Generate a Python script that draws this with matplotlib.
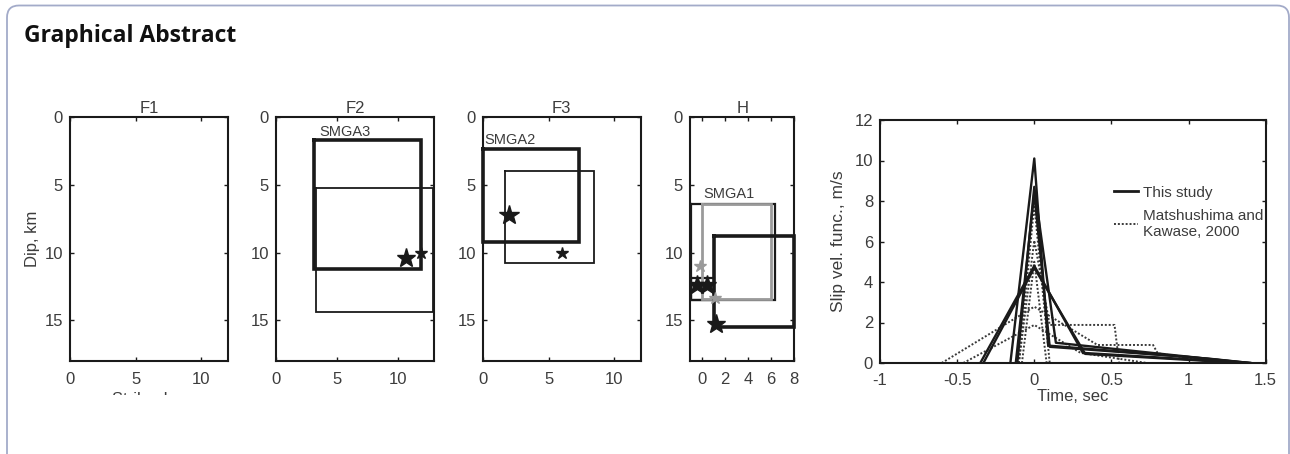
import matplotlib
matplotlib.use("Agg")
import matplotlib.pyplot as plt
from matplotlib.patches import FancyBboxPatch
from matplotlib.transforms import IdentityTransform, Bbox

plt.rcParams['font.family'] = ['Liberation Sans', 'DejaVu Sans']

# fault panels: x limits, ticks, titles
PANEL_TITLES = ["F1", "F2", "F3", "H"]
PANEL_XLIM = [(0, 12), (0, 13), (0, 12), (-1, 8)]
PANEL_XTICKS = [[0, 5, 10], [0, 5, 10], [0, 5, 10], [0, 2, 4, 6, 8]]
DIP_TICKS = [0, 5, 10, 15]

# rectangles as (x0, x1, y0, y1) in km
F2_RECTS_THICK = [(3.15, 11.9, 1.7, 11.25)]
F2_RECTS_THIN = [(3.3, 12.9, 5.2, 14.4)]
F2_STARS_BIG = ([10.7], [10.4])
F2_STARS_SMALL = ([11.95], [10.05])

F3_RECTS_THICK = [(0.0, 7.3, 2.35, 9.2)]
F3_RECTS_THIN = [(1.7, 8.45, 4.0, 10.75)]
F3_STARS_BIG = ([2.0], [7.2])
F3_STARS_SMALL = ([6.0], [10.05])

H_RECTS_THICK = [(1.05, 8.0, 8.8, 15.5)]
H_RECTS_MED = [(-0.95, 6.3, 6.4, 13.5), (-0.95, 1.05, 11.85, 13.5)]
H_RECTS_GRAY = [(0.05, 6.0, 6.4, 13.45)]
H_STARS_BIG = ([-0.4, 0.45, 1.25], [12.4, 12.4, 15.25])
H_STARS_GRAY = ([-0.1, 1.2], [11.0, 13.4])

SMGA_LABELS = {1: ("SMGA3", 3.55, 1.1), 2: ("SMGA2", 0.15, 1.7), 3: ("SMGA1", 0.15, 5.65)}

# slip velocity functions, this study (solid)
STUDY_T = [
    [-0.155, 0, 0.09, 1.15, 1.4],
    [-0.11, 0, 0.14, 1.2, 1.4],
    [-0.12, 0, 0.1, 1.0, 1.38],
    [-0.35, 0, 0.315, 1.4],
    [-0.33, 0, 0.33, 1.35],
]
STUDY_V = [
    [0, 10.1, 0.86, 0.2, 0],
    [0, 8.7, 1.0, 0.15, 0],
    [0, 8.4, 0.8, 0.3, 0],
    [0, 4.8, 0.5, 0],
    [0, 4.7, 0.45, 0],
]
# Matsushima and Kawase, 2000 (dotted)
MK_T = [
    [-0.6, 0, 0.41, 0.77, 0.8, 1.2],
    [-0.46, 0, 0.3, 0.73],
    [-0.1, 0, 0.1, 0.52, 0.55],
    [-0.1, 0, 0.1, 1.0],
    [-0.08, 0, 0.08],
]
MK_V = [
    [0, 2.78, 0.89, 0.89, 0.48, 0],
    [0, 1.88, 0.5, 0],
    [0, 6.05, 1.88, 1.88, 0],
    [0, 7.8, 0, 0],
    [0, 5.0, 0],
]
TIME_TICKS = [-1, -0.5, 0, 0.5, 1, 1.5]
TIME_LABELS = ["-1", "-0.5", "0", "0.5", "1", "1.5"]

INK = "#1a1a1a"
TXT = "#3c3c3c"
W, H = 1290, 454


def px_axes(fig, left, right, top, bottom):
    return fig.add_axes([left / W, 1 - bottom / H, (right - left) / W, (bottom - top) / H])


def style_axes(ax):
    for s in ax.spines.values():
        s.set_linewidth(1.5)
        s.set_color(INK)
    ax.tick_params(direction="in", length=3, width=1, top=True, right=True,
                   labelsize=12, labelcolor=TXT, color=INK, pad=5)


def draw_rects(ax, rects, lw, color):
    for x0, x1, y0, y1 in rects:
        ax.plot([x0, x1, x1, x0, x0], [y0, y0, y1, y1, y0], color=color, lw=lw,
                solid_joinstyle="miter", clip_on=False)


fig = plt.figure(figsize=(W / 100, H / 100), dpi=100)

# rounded frame and heading
frame = FancyBboxPatch((7, -30), 1282, H - 5.5 + 30, boxstyle="round,pad=0,rounding_size=12",
                       transform=IdentityTransform(), fc="none", ec="#a3abc9", lw=1.3)
fig.add_artist(frame)
fig.text(24 / W, 1 - 42.5 / H, "Graphical Abstract", fontsize=16.5, fontweight="bold",
         family="Open Sans", va="baseline", color="#111111")

lefts = [70, 276, 482.7, 690]
rights = [227.7, 434, 640.7, 794.3]
axes = []
for i in range(4):
    ax = px_axes(fig, lefts[i], rights[i], 117.3, 360.7)
    ax.set_xlim(*PANEL_XLIM[i])
    ax.set_ylim(18, 0)
    ax.set_xticks(PANEL_XTICKS[i])
    ax.set_yticks(DIP_TICKS)
    style_axes(ax)
    ax.tick_params(axis="x", pad=8)
    ax.set_title(PANEL_TITLES[i], fontsize=12, color=TXT, pad=3)
    axes.append(ax)

axes[0].set_ylabel("Dip, km", fontsize=12, color=TXT, labelpad=3)
xl = axes[0].set_xlabel("Strike, km", fontsize=12, color=TXT, labelpad=4)
xl.set_clip_on(True)
xl.set_clip_box(Bbox([[0, H - 395], [W, H]]))

ax = axes[1]
draw_rects(ax, F2_RECTS_THICK, 2.6, INK)
draw_rects(ax, F2_RECTS_THIN, 1.3, INK)
ax.plot(*F2_STARS_BIG, marker="*", ms=14, color=INK, ls="none")
ax.plot(*F2_STARS_SMALL, marker="*", ms=9, color=INK, ls="none")

ax = axes[2]
draw_rects(ax, F3_RECTS_THICK, 2.6, INK)
draw_rects(ax, F3_RECTS_THIN, 1.3, INK)
ax.plot(*F3_STARS_BIG, marker="*", ms=15, color=INK, ls="none")
ax.plot(*F3_STARS_SMALL, marker="*", ms=9, color=INK, ls="none")

ax = axes[3]
draw_rects(ax, H_RECTS_MED, 1.6, INK)
draw_rects(ax, H_RECTS_GRAY, 2.0, "#9a9a9a")
draw_rects(ax, H_RECTS_THICK, 2.6, INK)
ax.plot(*H_STARS_GRAY, marker="*", ms=9, color="#9a9a9a", ls="none")
ax.plot(*H_STARS_BIG, marker="*", ms=14, color=INK, ls="none")

for i, (txt, x, y) in SMGA_LABELS.items():
    axes[i].text(x, y, txt, fontsize=10.5, color=TXT, va="center", ha="left")

# slip velocity panel
ax = px_axes(fig, 880, 1265.7, 120, 363)
for t, v in zip(MK_T, MK_V):
    ax.plot(t, v, ls=(0, (1, 1)), lw=1.4, color="#3a3a3a")
for t, v in zip(STUDY_T, STUDY_V):
    ax.plot(t, v, ls="-", lw=1.7, color=INK)
ax.set_xlim(-1, 1.5)
ax.set_ylim(0, 12)
ax.set_xticks(TIME_TICKS)
ax.set_xticklabels(TIME_LABELS)
ax.set_yticks(range(0, 13, 2))
style_axes(ax)
ax.tick_params(axis="x", pad=7)
ax.set_xlabel("Time, sec", fontsize=12, color=TXT, labelpad=1)
ax.set_ylabel("Slip vel. func., m/s", fontsize=12.5, color=TXT, labelpad=6)

h1, = ax.plot([], [], ls="-", lw=2, color=INK)
h2, = ax.plot([], [], ls=(0, (1, 1)), lw=1.4, color="#3a3a3a")
ax.legend([h1, h2], ["This study", "Matshushima and\nKawase, 2000"], frameon=False,
          fontsize=11, labelcolor=TXT, loc="upper left", bbox_to_anchor=(0.59, 0.755),
          handlelength=1.6, handletextpad=0.3, labelspacing=0.6, borderaxespad=0)

fig.savefig("out.png", dpi=100)
